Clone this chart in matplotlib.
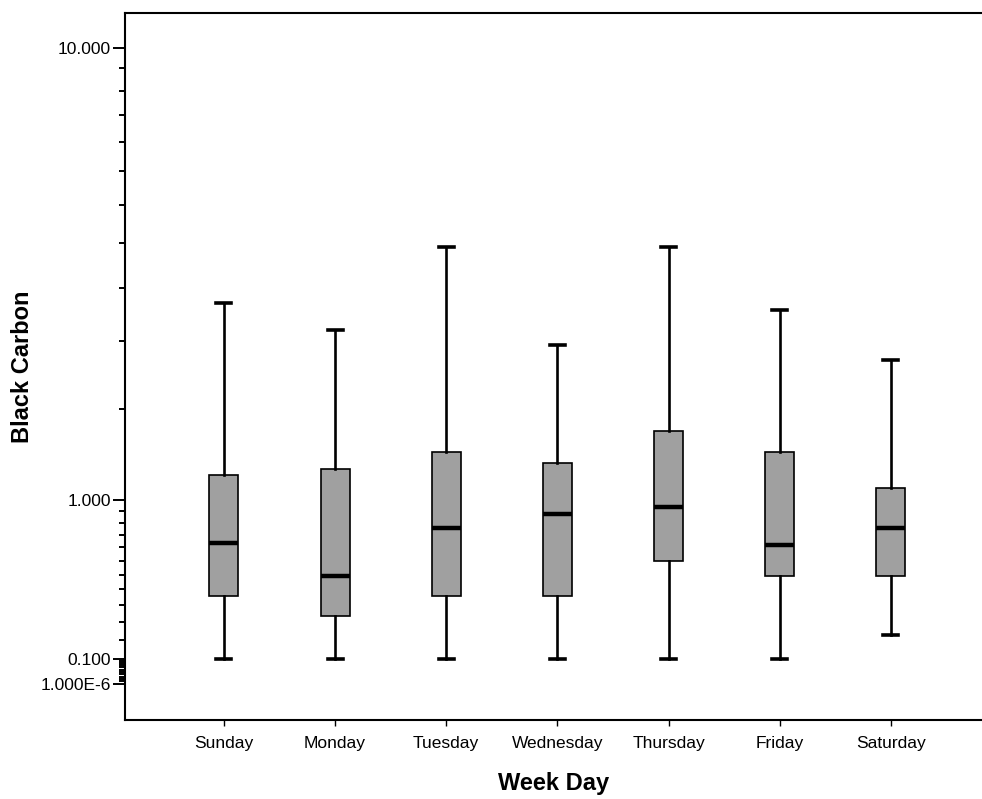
"""
Box plot of black carbon concentration by day of the week.

The value axis uses a log10(x + 1) scale so that the near-zero floor
value (1.000E-6) can sit just under the 0.100 label.
"""

import numpy as np
import matplotlib
matplotlib.use("Agg")
import matplotlib.pyplot as plt

DAYS = ["Sunday", "Monday", "Tuesday", "Wednesday", "Thursday", "Friday", "Saturday"]

# five-number summaries per day
WHISKER_LOW = [0.10, 0.10, 0.10, 0.10, 0.10, 0.10, 0.20]
Q1 = [0.39, 0.29, 0.39, 0.39, 0.59, 0.50, 0.50]
MEDIAN = [0.70, 0.50, 0.80, 0.90, 0.95, 0.69, 0.80]
Q3 = [1.20, 1.25, 1.40, 1.30, 1.59, 1.40, 1.09]
WHISKER_HIGH = [3.20, 2.80, 4.19, 2.59, 4.19, 3.10, 2.39]

MAJOR_TICKS = [1e-6, 0.1, 1.0, 10.0]
MAJOR_LABELS = ["1.000E-6", "0.100", "1.000", "10.000"]

FONT = ["Liberation Sans", "DejaVu Sans"]
BOX_GREY = "#a0a0a0"


def forward(y):
    y = np.asarray(y, dtype=float)
    return np.log10(np.clip(y + 1.0, 1e-9, None))


def inverse(v):
    return 10.0 ** np.asarray(v, dtype=float) - 1.0


def main():
    plt.rcParams["font.family"] = FONT

    fig = plt.figure(figsize=(9.82, 7.99), dpi=100)
    ax = fig.add_axes([125 / 982, 79 / 799, 857 / 982, 707 / 799])

    stats = []
    for i, day in enumerate(DAYS):
        stats.append({
            "label": day,
            "whislo": WHISKER_LOW[i],
            "q1": Q1[i],
            "med": MEDIAN[i],
            "q3": Q3[i],
            "whishi": WHISKER_HIGH[i],
            "fliers": [],
        })

    positions = np.arange(1, len(DAYS) + 1)
    ax.set_yscale("function", functions=(forward, inverse))
    ax.bxp(
        stats,
        positions=positions,
        widths=0.26,
        patch_artist=True,
        showfliers=False,
        boxprops=dict(facecolor=BOX_GREY, edgecolor="black", linewidth=1.2),
        whiskerprops=dict(color="black", linewidth=1.9),
        capprops=dict(color="black", linewidth=2.6),
        medianprops=dict(color="black", linewidth=3.2, solid_capstyle="butt"),
        capwidths=0.135,
    )

    ax.set_xlim(0.11, 7.82)
    ax.set_ylim(-0.1276, 11.55)

    ax.set_yticks(MAJOR_TICKS)
    ax.set_yticklabels(MAJOR_LABELS)
    minor = np.concatenate([
        np.linspace(1e-6, 0.1, 12)[1:-1],
        np.linspace(0.1, 1.0, 12)[1:-1],
        np.linspace(1.0, 10.0, 12)[1:-1],
    ])
    ax.set_yticks(minor, minor=True)
    ax.tick_params(axis="y", which="major", length=8.6, width=1.4,
                   labelsize=12.5, pad=1.5)
    ax.tick_params(axis="y", which="minor", length=4.3, width=1.4)

    ax.set_xticks(positions)
    ax.set_xticklabels(DAYS)
    ax.tick_params(axis="x", length=4.5, width=1.0, labelsize=12.5, pad=7)

    for side in ("left", "top", "bottom"):
        ax.spines[side].set_linewidth(1.5)
    ax.spines["right"].set_visible(False)

    ax.set_xlabel("Week Day", fontsize=17, fontweight="bold", labelpad=15)
    ax.set_ylabel("Black Carbon", fontsize=17, fontweight="bold")
    ax.yaxis.set_label_coords(-91 / 857, 0.5)

    fig.savefig("out.png", dpi=100)
    plt.close(fig)


if __name__ == "__main__":
    main()
